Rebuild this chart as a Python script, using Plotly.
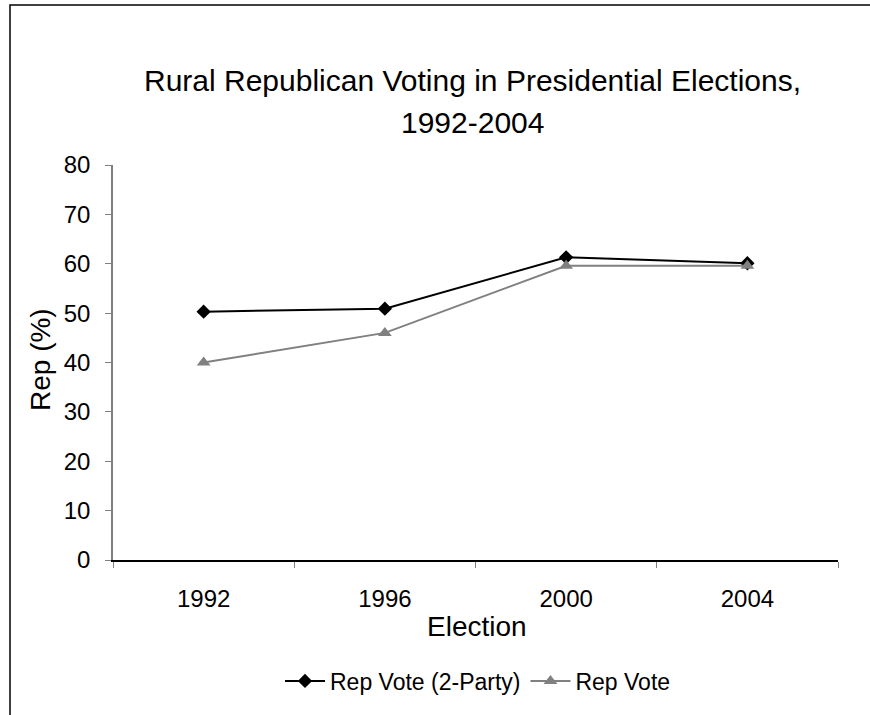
import plotly.graph_objects as go

elections = ["1992", "1996", "2000", "2004"]
rep_vote_2party = [50.3, 50.9, 61.3, 60.1]
rep_vote = [40.0, 46.0, 59.6, 59.6]
y_ticks = [0, 10, 20, 30, 40, 50, 60, 70, 80]

FONT = "Arial, Liberation Sans, sans-serif"

fig = go.Figure()
fig.add_trace(go.Scatter(
    x=elections, y=rep_vote_2party, name="Rep Vote (2-Party)",
    mode="lines+markers",
    line=dict(color="#000000", width=2),
    marker=dict(symbol="diamond", size=11, color="#000000"),
))
fig.add_trace(go.Scatter(
    x=elections, y=rep_vote, name="Rep Vote",
    mode="lines+markers",
    line=dict(color="#808080", width=2),
    marker=dict(symbol="triangle-up", size=12, color="#808080"),
))

L, R, T, B = 113, 32, 165, 155
W, H = 870, 715
pw, ph = W - L - R, H - T - B

def px_x(px):
    return (px - L) / pw

def px_y(py):
    return (H - B - py) / ph

fig.update_layout(
    width=W, height=H,
    margin=dict(l=L, r=R, t=T, b=B, pad=0),
    paper_bgcolor="white", plot_bgcolor="white",
    font=dict(family=FONT, color="#000000", size=24),
    showlegend=True,
    hovermode=False,
    legend=dict(
        orientation="h", x=px_x(478), y=px_y(681),
        xanchor="center", yanchor="middle",
        font=dict(size=23, family=FONT),
        itemwidth=40, bgcolor="rgba(0,0,0,0)",
        traceorder="normal",
    ),
    xaxis=dict(
        type="category", range=[-0.5, 3.5],
        tickson="boundaries", ticks="outside", ticklen=6, tickcolor="#808080",
        showline=True, linecolor="#000000", linewidth=1.5,
        showgrid=False, zeroline=False,
        tickfont=dict(size=24, family=FONT),
        ticklabelstandoff=16,
    ),
    yaxis=dict(
        range=[0, 80], tickvals=y_ticks,
        ticks="outside", ticklen=6, tickcolor="#808080",
        showline=True, linecolor="#808080", linewidth=1.5,
        showgrid=False, zeroline=False,
        tickfont=dict(size=24, family=FONT),
        ticklabelstandoff=10,
    ),
    annotations=[
        dict(text="Rural Republican Voting in Presidential Elections,",
             xref="paper", yref="paper", x=px_x(472), y=px_y(81),
             showarrow=False, xanchor="center", yanchor="middle",
             font=dict(size=30, family=FONT)),
        dict(text="1992-2004",
             xref="paper", yref="paper", x=px_x(472), y=px_y(122),
             showarrow=False, xanchor="center", yanchor="middle",
             font=dict(size=30, family=FONT)),
        dict(text="Rep (%)", xref="paper", yref="paper",
             x=px_x(40), y=px_y(360), textangle=-90, showarrow=False,
             xanchor="center", yanchor="middle",
             font=dict(size=28, family=FONT)),
        dict(text="Election", xref="paper", yref="paper",
             x=px_x(477), y=px_y(626), showarrow=False,
             xanchor="center", yanchor="middle",
             font=dict(size=28, family=FONT)),
    ],
    shapes=[
        dict(type="rect", xref="paper", yref="paper",
             x0=px_x(10), x1=px_x(890), y0=px_y(740), y1=px_y(5),
             line=dict(color="#000000", width=1.5), fillcolor="rgba(0,0,0,0)",
             layer="below"),
    ],
)

fig.write_html("out.html", config={"displayModeBar": False},
               post_script="document.body.style.margin='0';")
